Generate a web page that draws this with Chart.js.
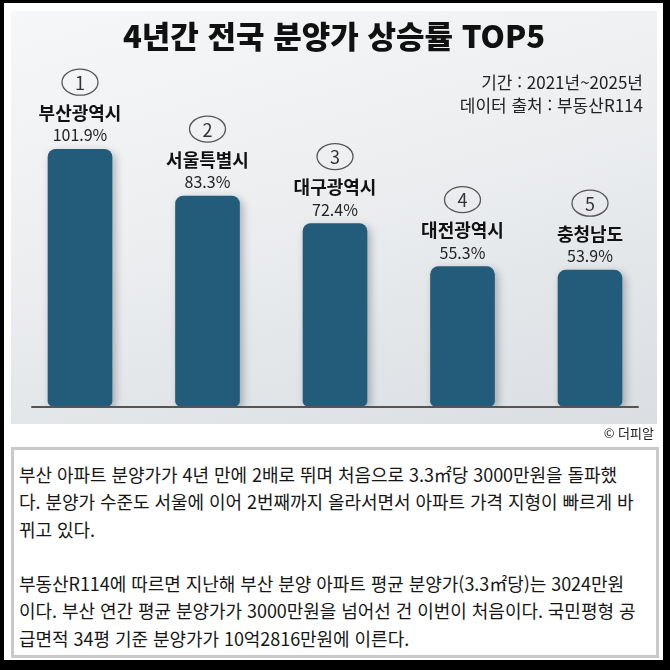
<!DOCTYPE html>
<html lang="ko">
<head>
<meta charset="utf-8">
<script src="https://cdn.jsdelivr.net/npm/chart.js@4"></script>
<style>
  body{margin:0;width:670px;height:670px;background:#000;position:relative;overflow:hidden;
    font-family:"Noto Sans CJK KR","Noto Sans",sans-serif;color:#1a1a1a;}
  .frame{position:absolute;left:4px;top:3px;width:659px;height:657px;background:#fff;}
  .panel{position:absolute;left:11px;top:11px;width:646px;height:413px;
    background:linear-gradient(165deg,#f6f7f8 0%,#eceef0 45%,#dadee2 100%);}
  .panel canvas{position:absolute;left:0;top:0;}
  .title{position:absolute;left:11px;width:646px;top:17px;text-align:center;
    font-size:31px;font-weight:900;line-height:36px;color:#111;}
  .src{position:absolute;right:27px;font-size:17px;line-height:20px;text-align:right;color:#222;}
  .credit{position:absolute;right:16px;top:425px;font-size:13px;line-height:16px;color:#222;}
  .box{position:absolute;left:11px;top:447px;width:648px;height:211px;box-sizing:border-box;
    border:3px solid #c9c9c9;padding:11px 0 0 5px;font-size:18px;line-height:27.3px;
    color:#161616;white-space:nowrap;letter-spacing:-0.05px;}
</style>
</head>
<body>
<div class="frame"></div>
<div class="panel"><canvas id="myChart"></canvas></div>
<div class="title">4년간 전국 분양가 상승률 TOP5</div>
<div class="src" style="top:72px">기간 : 2021년~2025년</div>
<div class="src" style="top:95px">데이터 출처 : 부동산R114</div>
<div class="credit">© 더피알</div>
<div class="box">부산 아파트 분양가가 4년 만에 2배로 뛰며 처음으로 3.3㎡당 3000만원을 돌파했<br>다. 분양가 수준도 서울에 이어 2번째까지 올라서면서 아파트 가격 지형이 빠르게 바<br>뀌고 있다.<br><br>부동산R114에 따르면 지난해 부산 분양 아파트 평균 분양가(3.3㎡당)는 3024만원<br>이다. 부산 연간 평균 분양가가 3000만원을 넘어선 건 이번이 처음이다. 국민평형 공<br>급면적 34평 기준 분양가가 10억2816만원에 이른다.</div>
<script>
// data
let regions = ['부산광역시', '서울특별시', '대구광역시', '대전광역시', '충청남도'];
let rates = [101.9, 83.3, 72.4, 55.3, 53.9];
let ranks = ['1', '2', '3', '4', '5'];

let fontFamily = '"Noto Sans CJK KR","Noto Sans",sans-serif';

// baseline under the bars
let baseLine = {
    id: 'baseLine',
    beforeDatasetsDraw(chart){
        let {ctx, chartArea, scales} = chart;
        let y = scales.y.getPixelForValue(0) + 1;
        ctx.save();
        ctx.strokeStyle = '#555';
        ctx.lineWidth = 2;
        ctx.beginPath();
        ctx.moveTo(chartArea.left + 15, y);
        ctx.lineTo(chartArea.right - 15, y);
        ctx.stroke();
        ctx.restore();
    }
};

// soft shadow on the bars
let barShadow = {
    id: 'barShadow',
    beforeDatasetDraw(chart){
        let ctx = chart.ctx;
        ctx.save();
        ctx.shadowColor = 'rgba(0,0,0,0.28)';
        ctx.shadowBlur = 9;
        ctx.shadowOffsetX = 3;
        ctx.shadowOffsetY = 3;
    },
    afterDatasetDraw(chart){
        chart.ctx.restore();
    }
};

// rank circle, region name and value above each bar
let topLabels = {
    id: 'topLabels',
    afterDatasetsDraw(chart){
        let ctx = chart.ctx;
        let bars = chart.getDatasetMeta(0).data;
        ctx.save();
        ctx.textAlign = 'center';
        ctx.textBaseline = 'middle';
        bars.forEach((bar, i)=>{
            let x = bar.x, top = bar.y;
            ctx.fillStyle = '#222';
            ctx.font = '16px ' + fontFamily;
            ctx.fillText(rates[i].toFixed(1) + '%', x, top - 14);
            ctx.fillStyle = '#111';
            ctx.font = 'bold 18px ' + fontFamily;
            ctx.fillText(regions[i], x, top - 36);
            ctx.strokeStyle = '#555';
            ctx.lineWidth = 1.3;
            ctx.beginPath();
            ctx.ellipse(x, top - 67, 18, 13, 0, 0, Math.PI * 2);
            ctx.stroke();
            ctx.fillStyle = '#333';
            ctx.font = '18px ' + fontFamily;
            ctx.fillText(ranks[i], x, top - 66);
        });
        ctx.restore();
    }
};

let ctx = document.getElementById('myChart').getContext('2d');
let myChart = new Chart(ctx, {
    type: 'bar',
    data: {
        labels: regions,
        datasets: [{
            data: rates,
            backgroundColor: '#235b7a',
            borderRadius: {topLeft: 8, topRight: 8, bottomLeft: 5, bottomRight: 5},
            borderSkipped: false,
            barThickness: 64
        }]
    },
    options: {
        responsive: true,
        maintainAspectRatio: false,
        animation: false,
        layout: {padding: {left: 5.25, right: 3.25, top: 92.6, bottom: 18}},
        plugins: {legend: {display: false}, tooltip: {enabled: false}},
        scales: {
            x: {display: false},
            y: {display: false, min: 0, max: 120}
        }
    },
    plugins: [baseLine, barShadow, topLabels]
});
</script>
</body>
</html>
